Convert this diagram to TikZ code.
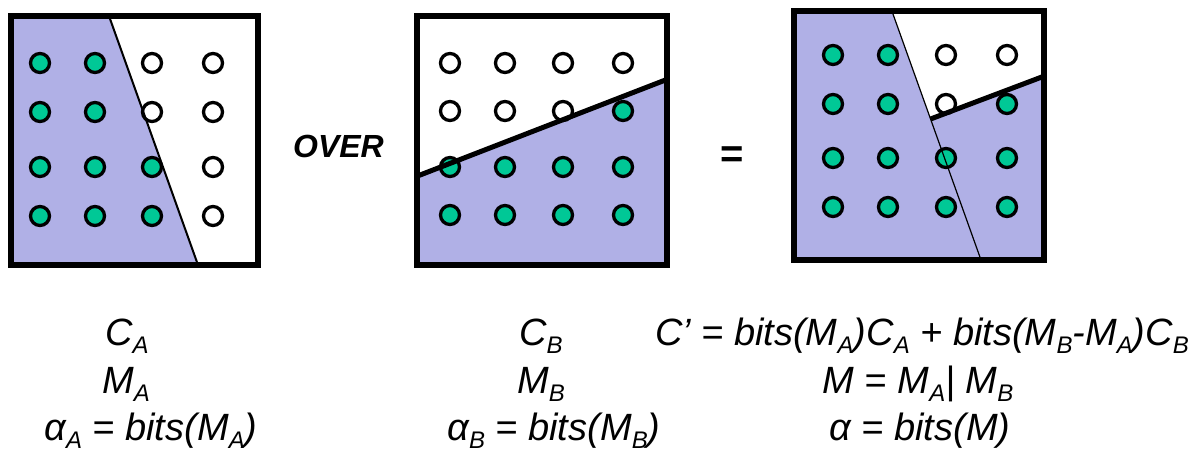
\documentclass[tikz,border=0pt]{standalone}
\usepackage{fontspec}
\setmainfont{Liberation Sans}
\definecolor{lav}{RGB}{176,176,230}
\definecolor{dotgreen}{RGB}{0,200,150}
\newcommand\mysub[1]{\raisebox{-8pt}{\fontsize{24}{24}\selectfont #1}}
\begin{document}
\begin{tikzpicture}[x=1pt,y=-1pt,
  frame/.style={line width=6pt, line join=miter},
  gdot/.style={circle, draw=black, line width=3.3pt, fill=dotgreen, minimum size=19pt, inner sep=0pt},
  wdot/.style={gdot, fill=white},
  thindiv/.style={line width=2pt},
  thickdiv/.style={line width=5pt},
  lbl/.style={anchor=base, inner sep=0pt, font=\fontsize{38}{38}\selectfont\itshape}]
\useasboundingbox (0,0) rectangle (1200,452);

% ---------- Box A ----------
\fill[lav] (10.5,16) -- (109,16) -- (198,265) -- (10.5,265) -- cycle;
\foreach \x/\y/\s [count=\k] in {40/63/gdot,95/63/gdot,152/63/wdot,213/63/wdot,
  40/112/gdot,95/112/gdot,152/112/wdot,213/112/wdot,
  40/167/gdot,95/167/gdot,152/167/gdot,213/167/wdot,
  40/216/gdot,95/216/gdot,152/216/gdot,213/216/wdot}
  \node[\s] (a\k) at (\x,\y) {};
\coordinate (atop) at (109,16);
\coordinate (abot) at (198,265);
\draw[thindiv] (atop) -- (abot);
\draw[frame] (10.5,16) rectangle (258,265);

% ---------- Box B ----------
\fill[lav] (416.5,176.4) -- (666.5,79.6) -- (666.5,265) -- (416.5,265) -- cycle;
\foreach \x/\y/\s [count=\k] in {450/63/wdot,505/63/wdot,563/63/wdot,623/63/wdot,
  450/111/wdot,505/111/wdot,563/111/wdot,623/111/gdot,
  450/167/gdot,505/167/gdot,563/167/gdot,623/167/gdot,
  450/215/gdot,505/215/gdot,563/215/gdot,623/215/gdot}
  \node[\s] (b\k) at (\x,\y) {};
\coordinate (bl) at (416.5,176.4);
\coordinate (br) at (668,79);
\draw[thickdiv] (bl) -- (br);
\draw[frame] (416.5,16) rectangle (666.5,265);

% ---------- Box C ----------
\fill[lav] (793.5,11) rectangle (1043.5,260);
\fill[white] (891.9,11) -- (1043.5,11) -- (1043.5,76.4) -- (930.6,119) -- cycle;
\foreach \x/\y/\s [count=\k] in {833/55/gdot,888/55/gdot,946/55/wdot,1007/55/wdot,
  833/104/gdot,888/104/gdot,946/104/wdot,1007/104/gdot,
  833/158/gdot,888/158/gdot,946/158/gdot,1007/158/gdot,
  833/207/gdot,888/207/gdot,946/207/gdot,1007/207/gdot}
  \node[\s] (c\k) at (\x,\y) {};
\coordinate (ctop) at (891.9,11);
\coordinate (cbot) at (981,260);
\coordinate (cmid) at (930.6,119);
\coordinate (cright) at (1045,75.8);
\draw[line width=1.2pt] (ctop) -- (cbot);
\draw[thickdiv] (cmid) -- (cright);
\draw[frame] (793.5,11) rectangle (1043.5,260);

% ---------- operators ----------
\node[anchor=base, inner sep=0pt, font=\fontsize{32}{32}\selectfont\bfseries\itshape] (over) at (338.5,157) {OVER};
\node[anchor=base, inner sep=0pt, font=\fontsize{40}{40}\selectfont\bfseries] (eq) at (732,167) {=};

% ---------- labels ----------
\node[lbl] (ca) at (127,345) {C\mysub{A}};
\node[lbl] (ma) at (126,393) {M\mysub{A}};
\node[lbl] (aa) at (151,440) {α\mysub{A} = bits(M\mysub{A})};

\node[lbl] (cb) at (541,345) {C\mysub{B}};
\node[lbl] (mb) at (541,393) {M\mysub{B}};
\node[lbl] (ab) at (554,440) {α\mysub{B} = bits(M\mysub{B})};

\node[lbl] (cc) at (922,345) {C’ = bits(M\mysub{A})C\mysub{A} + bits(M\mysub{B}-M\mysub{A})C\mysub{B}};
\node[lbl] (mc) at (918,393) {M = M\mysub{A}| M\mysub{B}};
\node[lbl] (ac) at (920,440) {α = bits(M)};
\end{tikzpicture}
\end{document}
